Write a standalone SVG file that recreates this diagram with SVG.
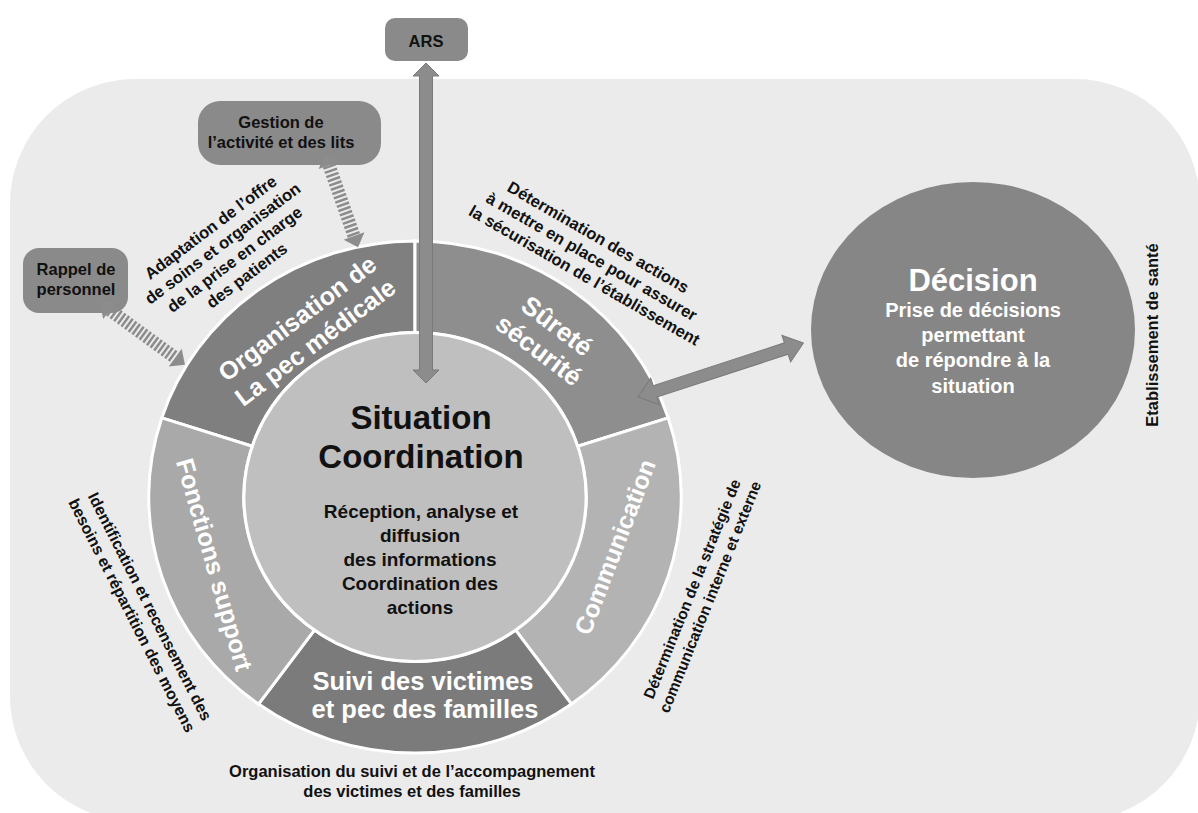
<svg xmlns="http://www.w3.org/2000/svg" width="1198" height="813" viewBox="0 0 1198 813">
<style>
.t{font-family:"Liberation Sans",Arial,Helvetica,sans-serif;font-weight:bold;text-anchor:middle}
.w{fill:#ffffff}
.k{fill:#111111}
.seg{stroke:#ffffff;stroke-width:3}
.box{fill:#8a8a8a}
.arr{fill:#8c8c8c;stroke:#7a7a7a;stroke-width:1}
.stripe{stroke:#8c8c8c;stroke-width:13;stroke-dasharray:2.5 2;fill:none}
.head{fill:#8c8c8c}
</style>
<rect x="0" y="0" width="1198" height="813" fill="#ffffff"/>
<rect id="background" x="10" y="79" width="1190" height="742" rx="125" ry="125" fill="#ebebeb"/>

<g id="ring">
  <g transform="translate(415,497) scale(1.04,1)">
    <path id="seg-organisation" class="seg" fill="#7f7f7f" vector-effect="non-scaling-stroke" d="M -243.5 -79.1 A 256 256 0 0 1 0 -256 L 0 -164.5 A 164.5 164.5 0 0 0 -156.5 -50.8 Z"/>
    <path id="seg-surete" class="seg" fill="#8e8e8e" vector-effect="non-scaling-stroke" d="M 0 -256 A 256 256 0 0 1 243.5 -79.1 L 156.5 -50.8 A 164.5 164.5 0 0 0 0 -164.5 Z"/>
    <path id="seg-communication" class="seg" fill="#b3b3b3" vector-effect="non-scaling-stroke" d="M 243.5 -79.1 A 256 256 0 0 1 150.5 207.1 L 96.7 133.1 A 164.5 164.5 0 0 0 156.5 -50.8 Z"/>
    <path id="seg-suivi" class="seg" fill="#7b7b7b" vector-effect="non-scaling-stroke" d="M 150.5 207.1 A 256 256 0 0 1 -150.5 207.1 L -96.7 133.1 A 164.5 164.5 0 0 0 96.7 133.1 Z"/>
    <path id="seg-fonctions" class="seg" fill="#a9a9a9" vector-effect="non-scaling-stroke" d="M -150.5 207.1 A 256 256 0 0 1 -243.5 -79.1 L -156.5 -50.8 A 164.5 164.5 0 0 0 -96.7 133.1 Z"/>
    <circle id="inner-circle" class="seg" cx="0" cy="0" r="164.5" fill="#bfbfbf" vector-effect="non-scaling-stroke"/>
  </g>
</g>

<g id="node-organisation">
  <g transform="translate(306,330) rotate(-37)">
    <text class="t w" x="0" y="-6" font-size="25">Organisation de</text>
    <text class="t w" x="0" y="24" font-size="25">La pec médicale</text>
  </g>
</g>
<g id="node-surete">
  <g transform="translate(548,338) rotate(37)">
    <text class="t w" x="0" y="-6" font-size="26">Sûreté</text>
    <text class="t w" x="0" y="24" font-size="26">sécurité</text>
  </g>
</g>
<g id="node-communication">
  <text class="t w" font-size="24.5" transform="translate(623,550) rotate(-69)">Communication</text>
</g>
<g id="node-fonctions">
  <text class="t w" font-size="25" transform="translate(206,567) rotate(74)">Fonctions support</text>
</g>
<g id="node-suivi">
  <text class="t w" x="423" y="690" font-size="25.5">Suivi des victimes</text>
  <text class="t w" x="425" y="718" font-size="25.5">et pec des familles</text>
</g>
<g id="node-situation">
  <text class="t k" x="421" y="429" font-size="33">Situation</text>
  <text class="t k" x="421" y="468" font-size="33">Coordination</text>
  <text class="t k" x="421" y="518" font-size="19">Réception, analyse et</text>
  <text class="t k" x="420" y="542" font-size="19">diffusion</text>
  <text class="t k" x="420" y="566" font-size="19">des informations</text>
  <text class="t k" x="420" y="590" font-size="19">Coordination des</text>
  <text class="t k" x="420" y="614" font-size="19">actions</text>
</g>

<g id="node-decision">
  <ellipse cx="973" cy="330" rx="162" ry="148" fill="#868686"/>
  <text class="t w" x="973" y="291" font-size="31">Décision</text>
  <text class="t w" x="973" y="317" font-size="20">Prise de décisions</text>
  <text class="t w" x="973" y="342" font-size="20">permettant</text>
  <text class="t w" x="973" y="367" font-size="20">de répondre à la</text>
  <text class="t w" x="973" y="393" font-size="20">situation</text>
</g>

<g id="node-ars">
  <rect class="box" x="385" y="18" width="83" height="43" rx="10"/>
  <text class="t k" x="426" y="47" font-size="16.5">ARS</text>
</g>
<g id="node-gestion">
  <rect class="box" x="198" y="101" width="183" height="64" rx="22"/>
  <text class="t k" x="281" y="128" font-size="16.5">Gestion de</text>
  <text class="t k" x="281" y="148" font-size="16.5">l’activité et des lits</text>
</g>
<g id="node-rappel">
  <rect class="box" x="23" y="248" width="105" height="65" rx="16"/>
  <text class="t k" x="76" y="275" font-size="16.5">Rappel de</text>
  <text class="t k" x="76" y="295" font-size="16.5">personnel</text>
</g>

<g id="label-adaptation">
  <g transform="translate(214,232) rotate(-37)">
    <text class="t k" x="0" y="0" font-size="16.5">Adaptation de l’offre</text>
    <text class="t k" x="0" y="20" font-size="16.5">de soins et organisation</text>
    <text class="t k" x="0" y="40" font-size="16.5">de la prise en charge</text>
    <text class="t k" x="0" y="60" font-size="16.5">des patients</text>
  </g>
</g>
<g id="label-determination-actions">
  <g transform="translate(588,261) rotate(30)">
    <text class="t k" x="-3" y="-20" font-size="16.5">Détermination des actions</text>
    <text class="t k" x="1" y="0" font-size="16.5">à mettre en place pour assurer</text>
    <text class="t k" x="4" y="20" font-size="16.5">la sécurisation de l’établissement</text>
  </g>
</g>
<g id="label-identification">
  <text class="t k" font-size="16" transform="translate(145,609) rotate(63)">Identification et recensement des</text>
  <text class="t k" font-size="16" transform="translate(127,618) rotate(63)">besoins et répartition des moyens</text>
</g>
<g id="label-communication">
  <text class="t k" font-size="15.5" transform="translate(697,591) rotate(-68)">Détermination de la stratégie de</text>
  <text class="t k" font-size="15.5" transform="translate(715,599) rotate(-68)">communication interne et externe</text>
</g>
<g id="label-suivi">
  <text class="t k" x="412" y="777" font-size="16.5">Organisation du suivi et de l’accompagnement</text>
  <text class="t k" x="412" y="797" font-size="16.5">des victimes et des familles</text>
</g>
<g id="label-etablissement">
  <text class="t k" font-size="16.5" transform="translate(1158,335) rotate(-90)">Etablissement de santé</text>
</g>

<g id="connectors">
  <polygon class="arr" transform="translate(426,63) rotate(90)" points="0,0 13,-13 13,-6.5 307,-6.5 307,-13 320,0 307,13 307,6.5 13,6.5 13,13"/>
  <polygon class="arr" transform="translate(638,397) rotate(-18.1)" points="0,0 18,-14 18,-6 156,-6 156,-14 174,0 156,14 156,6 18,6 18,14"/>
  <g transform="translate(325,154) rotate(70.5)">
    <line class="stripe" x1="12" y1="0" x2="87" y2="0"/>
    <polygon class="head" points="0,0 12,-11 12,11"/>
    <polygon class="head" points="99,0 87,-11 87,11"/>
  </g>
  <g transform="translate(100,303) rotate(36)">
    <line class="stripe" x1="12" y1="0" x2="93" y2="0"/>
    <polygon class="head" points="0,0 12,-11 12,11"/>
    <polygon class="head" points="105,0 93,-11 93,11"/>
  </g>
</g>
</svg>
